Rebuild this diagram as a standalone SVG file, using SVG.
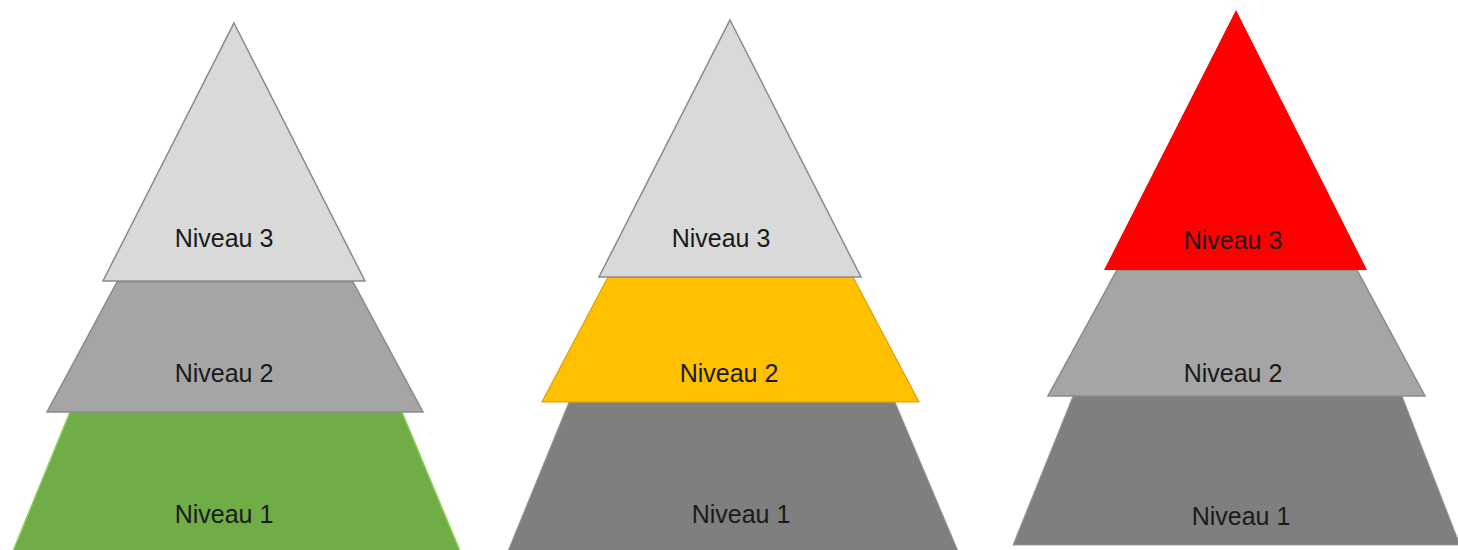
<svg xmlns="http://www.w3.org/2000/svg" width="1458" height="550" viewBox="0 0 1458 550">
<style>
text{font-family:"Liberation Sans",Arial,sans-serif;font-size:25px;fill:#1a1a1a;text-anchor:middle}
.lg{fill:#d9d9d9;stroke:#8a8a8a;stroke-width:1.5}
.mg{fill:#a5a5a5;stroke:#8a8a8a;stroke-width:1.5}
.dg{fill:#7f7f7f;stroke:#9a9a9a;stroke-width:1}
.gr{fill:#70ad47;stroke:#8fd05a;stroke-width:1.5}
.ye{fill:#ffc000;stroke:#d9a300;stroke-width:1.2}
.rd{fill:#ff0000}
</style>
<rect width="1458" height="550" fill="#ffffff"/>
<g id="pyramid1">
<g id="p1-level1"><polygon class="gr" points="70,412 402,412 460,551 13,551"/><text x="224" y="523">Niveau 1</text></g>
<g id="p1-level2"><polygon class="mg" points="117,282 353,282 423,412 47,412"/><text x="224" y="382">Niveau 2</text></g>
<g id="p1-level3"><polygon class="lg" points="234,23 365,281 103,281"/><text x="224" y="247">Niveau 3</text></g>
</g>
<g id="pyramid2">
<g id="p2-level1"><polygon class="dg" points="569,402 895,402 958,551 508,551"/><text x="741" y="523">Niveau 1</text></g>
<g id="p2-level2"><polygon class="ye" points="608,277 853,277 919,402 542,402"/><text x="729" y="382">Niveau 2</text></g>
<g id="p2-level3"><polygon class="lg" points="730,20 861,277 599,277"/><text x="721" y="247">Niveau 3</text></g>
</g>
<g id="pyramid3">
<g id="p3-level1"><polygon class="dg" points="1073,396 1402,396 1460,545 1013,545"/><text x="1241" y="525">Niveau 1</text></g>
<g id="p3-level2"><polygon class="mg" points="1117,270 1357,270 1425,396 1048,396"/><text x="1233" y="382">Niveau 2</text></g>
<g id="p3-level3"><polygon class="rd" points="1236,10 1367,270 1104,270"/><text x="1233" y="249">Niveau 3</text></g>
</g>
<g id="connectors"/>
</svg>
